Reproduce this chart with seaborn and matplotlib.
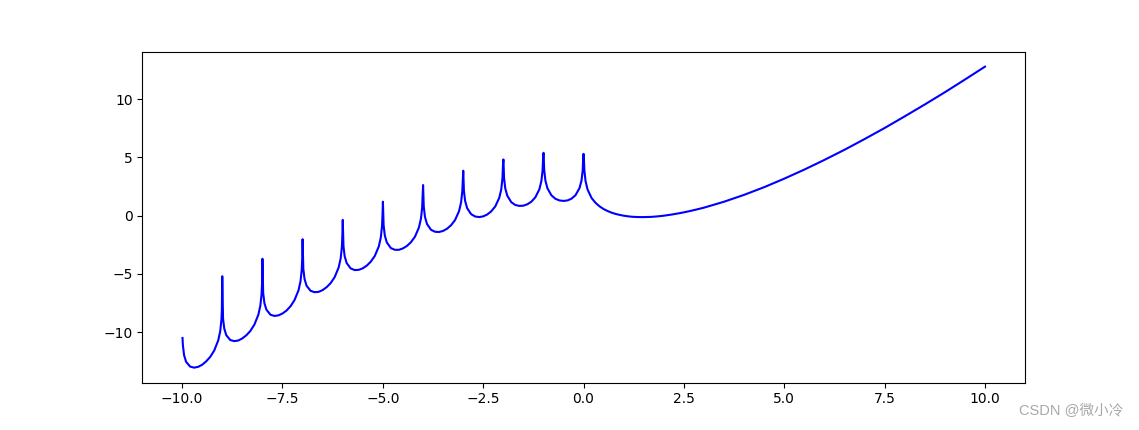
import matplotlib
matplotlib.use("Agg")
import matplotlib.pyplot as plt
import seaborn as sns
import pandas as pd

x_neg = [
    -9.99, -9.98, -9.95, -9.9, -9.8, -9.7, -9.6, -9.5, -9.4, -9.3, -9.2, -9.1, -9.05, -9.02, -9.0095,
    -8.9995, -8.98, -8.95, -8.9, -8.8, -8.7, -8.6, -8.5, -8.4, -8.3, -8.2, -8.1, -8.05, -8.02, -8.009,
    -7.999, -7.98, -7.95, -7.9, -7.8, -7.7, -7.6, -7.5, -7.4, -7.3, -7.2, -7.1, -7.05, -7.02, -7.0085,
    -6.9985, -6.98, -6.95, -6.9, -6.8, -6.7, -6.6, -6.5, -6.4, -6.3, -6.2, -6.1, -6.05, -6.02, -6.008,
    -5.998, -5.98, -5.95, -5.9, -5.8, -5.7, -5.6, -5.5, -5.4, -5.3, -5.2, -5.1, -5.05, -5.02, -5.0075,
    -4.9975, -4.98, -4.95, -4.9, -4.8, -4.7, -4.6, -4.5, -4.4, -4.3, -4.2, -4.1, -4.05, -4.02, -4.007,
    -3.997, -3.98, -3.95, -3.9, -3.8, -3.7, -3.6, -3.5, -3.4, -3.3, -3.2, -3.1, -3.05, -3.02, -3.0065,
    -2.9965, -2.98, -2.95, -2.9, -2.8, -2.7, -2.6, -2.5, -2.4, -2.3, -2.2, -2.1, -2.05, -2.02, -2.006,
    -1.996, -1.98, -1.95, -1.9, -1.8, -1.7, -1.6, -1.5, -1.4, -1.3, -1.2, -1.1, -1.05, -1.02, -1.0055,
    -0.9955, -0.98, -0.95, -0.9, -0.8, -0.7, -0.6, -0.5, -0.4, -0.3, -0.2, -0.1, -0.05, -0.02, -0.005,
]
y_neg = [
    -10.50, -11.14, -11.99, -12.55, -12.96, -13.05, -12.98, -12.80, -12.51, -12.13, -11.58, -10.71, -9.92, -8.93, -8.15,
    -5.20, -8.84, -9.69, -10.26, -10.68, -10.77, -10.72, -10.54, -10.27, -9.90, -9.36, -8.50, -7.71, -6.73, -5.89,
    -3.70, -6.65, -7.50, -8.07, -8.50, -8.61, -8.56, -8.40, -8.15, -7.78, -7.25, -6.41, -5.63, -4.65, -3.76,
    -2.02, -4.57, -5.43, -6.01, -6.45, -6.57, -6.54, -6.39, -6.14, -5.79, -5.28, -4.45, -3.67, -2.70, -1.75,
    -0.36, -2.63, -3.49, -4.07, -4.53, -4.67, -4.65, -4.52, -4.29, -3.95, -3.46, -2.64, -1.87, -0.91, 0.11,
    1.20, -0.84, -1.70, -2.30, -2.78, -2.93, -2.93, -2.81, -2.60, -2.28, -1.81, -1.01, -0.25, 0.71, 1.78,
    2.63, 0.77, -0.10, -0.71, -1.21, -1.38, -1.40, -1.31, -1.12, -0.82, -0.37, 0.40, 1.15, 2.10, 3.24,
    3.86, 2.15, 1.27, 0.65, 0.13, -0.07, -0.12, -0.06, 0.10, 0.37, 0.79, 1.53, 2.26, 3.20, 4.42,
    4.83, 3.24, 2.35, 1.72, 1.16, 0.92, 0.84, 0.86, 0.98, 1.20, 1.58, 2.27, 2.98, 3.90, 5.20,
    5.40, 3.92, 3.02, 2.36, 1.75, 1.45, 1.31, 1.27, 1.31, 1.46, 1.76, 2.37, 3.03, 3.92, 5.30,
]
x_pos = [
    0.005, 0.02, 0.05, 0.1, 0.2, 0.3, 0.4, 0.5, 0.6, 0.7, 0.8, 0.9, 1.0, 1.1, 1.2, 1.3, 1.4, 1.5,
    1.6, 1.7, 1.8, 1.9, 2.0, 2.2, 2.4, 2.6, 2.8, 3.0, 3.5, 4.0, 4.5, 5.0, 5.5, 6.0, 6.5, 7.0,
    7.5, 8.0, 8.5, 9.0, 9.5, 10.0,
]
y_pos = [
    5.30, 3.90, 2.97, 2.25, 1.52, 1.10, 0.80, 0.57, 0.40, 0.26, 0.15, 0.07, 0.00, -0.05, -0.09, -0.11, -0.12, -0.12,
    -0.11, -0.10, -0.07, -0.04, 0.00, 0.10, 0.22, 0.36, 0.52, 0.69, 1.20, 1.79, 2.45, 3.18, 3.96, 4.79, 5.66, 6.58,
    7.53, 8.53, 9.55, 10.60, 11.69, 12.80,
]

df = pd.DataFrame({"x": x_neg + x_pos, "y": y_neg + y_pos})

fig, ax = plt.subplots(figsize=(11.39, 4.30), dpi=100)
sns.lineplot(data=df, x="x", y="y", sort=False, estimator=None, color="blue", linewidth=1.5, ax=ax)
ax.set_xlabel("")
ax.set_ylabel("")

fig.text(0.986, 0.044, "CSDN @微小冷", ha="right", va="center", fontsize=10.5, color="#a8a8a8",
         family=["Liberation Sans", "Noto Sans CJK SC"])

fig.savefig("out.png", dpi=100)
